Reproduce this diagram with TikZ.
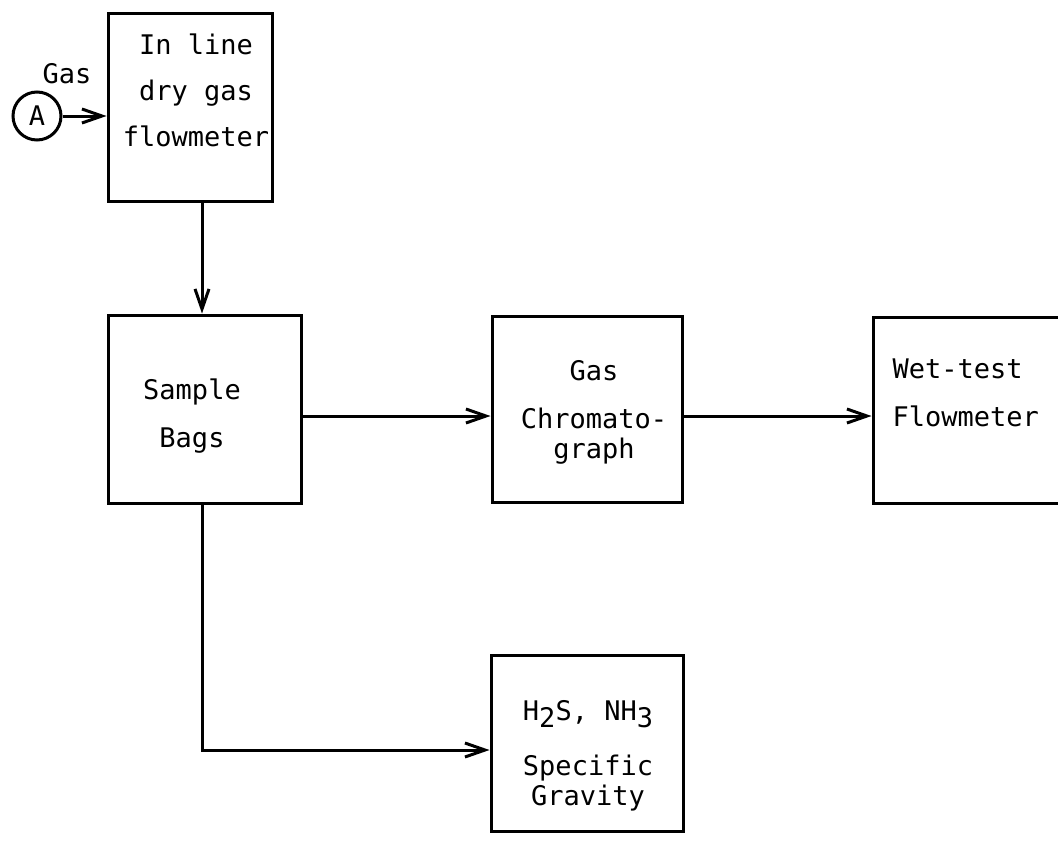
\documentclass[tikz,border=0pt]{standalone}
\usepackage{fontspec}
\usetikzlibrary{arrows.meta}
\newfontfamily\typew{DejaVu Sans Mono}
\newcommand\lowr[1]{\raisebox{-3.5pt}{#1}}
\tikzset{fd/.style={x=.5pt,y=-.5pt,line width=1.5pt},
  box/.style={draw,rectangle,inner sep=0pt},
  txt/.style={align=center,inner sep=0pt,font=\typew\fontsize{13.5}{#1}\selectfont},
  txt/.default=23pt,
  arr/.style={-{Straight Barb[length=10pt,width=7pt]}}}

\begin{document}
\begin{tikzpicture}[fd]
  \useasboundingbox (0,0) rectangle (1058,840);
  \clip (0,0) rectangle (1058,840);
  % gas inlet
  \node[draw,circle,minimum size=24pt,inner sep=0pt,txt] (srcA) at (37,116){A};
  \node[txt] (gaslbl) at (67,74){Gas};
  % boxes
  \node[box,minimum width=82pt,minimum height=93.5pt] (flow) at (190,107.5){};
  \node[box,minimum width=96.5pt,minimum height=94pt] (bags) at (204.5,409){};
  \node[box,minimum width=95pt,minimum height=93pt] (chrom) at (587,409){};
  \node[box,minimum width=113.5pt,minimum height=93pt] (wet) at (986.5,410){};
  \node[box,minimum width=96pt,minimum height=88pt] (h2s) at (587,743){};
  % box texts
  \node[txt,anchor=north] (flowtxt) at (196,32){In line\\dry gas\\flowmeter};
  \node[txt=24pt,anchor=north] (bagstxt) at (192,377){Sample\\Bags};
  \node[txt=15pt,anchor=north] (chromtxt) at (594,359){Gas\\[9pt]Chromato-\\graph};
  \node[txt=24pt,anchor=north west,align=left] (wettxt) at (891,357){Wet-test\\Flowmeter};
  \node[txt=15pt,anchor=north] (h2stxt) at (588,699){H\lowr{2}S, NH\lowr{3}\\[12.5pt]Specific\\Gravity};
  % connectors
  \coordinate (drop) at (202,0);
  \coordinate (row) at (0,416);
  \coordinate (tap) at (0,750);
  \draw[arr] (srcA.east) -- (srcA.east -| flow.west);
  \draw[arr] (flow.south -| drop) -- (bags.north -| drop);
  \draw[arr] (bags.east |- row) -- (chrom.west |- row);
  \draw[arr] (chrom.east |- row) -- (wet.west |- row);
  \draw[arr] (bags.south -| drop) |- (h2s.west |- tap);
\end{tikzpicture}
\end{document}
